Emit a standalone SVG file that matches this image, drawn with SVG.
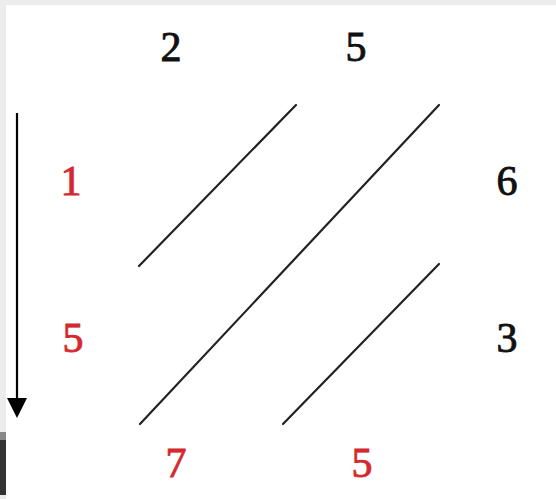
<svg xmlns="http://www.w3.org/2000/svg" width="556" height="499" viewBox="0 0 556 499">
<style>
.n{font-family:"Liberation Serif","Times New Roman",serif;font-size:42px;text-anchor:middle;fill:#111;stroke:#111;stroke-width:0.9}
.r{fill:#d42a2f;stroke:#d42a2f}
.ln{stroke:#222;stroke-width:2.2;stroke-linecap:round;fill:none}
</style>
<rect width="556" height="499" fill="#fff"/>
<rect x="0" y="0" width="556" height="5" fill="#ececec"/>
<rect x="0" y="0" width="6" height="499" fill="#ececec"/>
<rect x="0" y="432" width="6" height="8" fill="#888"/>
<rect x="0" y="440" width="6" height="55" fill="#333"/>
<g id="connectors">
<line class="ln" x1="139" y1="266" x2="296" y2="105"/>
<line class="ln" x1="140" y1="424" x2="439" y2="105"/>
<line class="ln" x1="283" y1="424" x2="439" y2="264"/>
<line x1="17" y1="113" x2="17" y2="400" stroke="#000" stroke-width="2.2"/>
<path d="M7,398 L27,398 L17,418 Z" fill="#000"/>
</g>
<g id="n-top2"><text class="n" x="171" y="61">2</text></g>
<g id="n-top5"><text class="n" x="356" y="61">5</text></g>
<g id="n-left1"><text class="n r" x="71" y="195">1</text></g>
<g id="n-right6"><text class="n" x="507" y="195">6</text></g>
<g id="n-left5"><text class="n r" x="73" y="352">5</text></g>
<g id="n-right3"><text class="n" x="507" y="352">3</text></g>
<g id="n-bot7"><text class="n r" x="176" y="477">7</text></g>
<g id="n-bot5"><text class="n r" x="362" y="477">5</text></g>
</svg>
